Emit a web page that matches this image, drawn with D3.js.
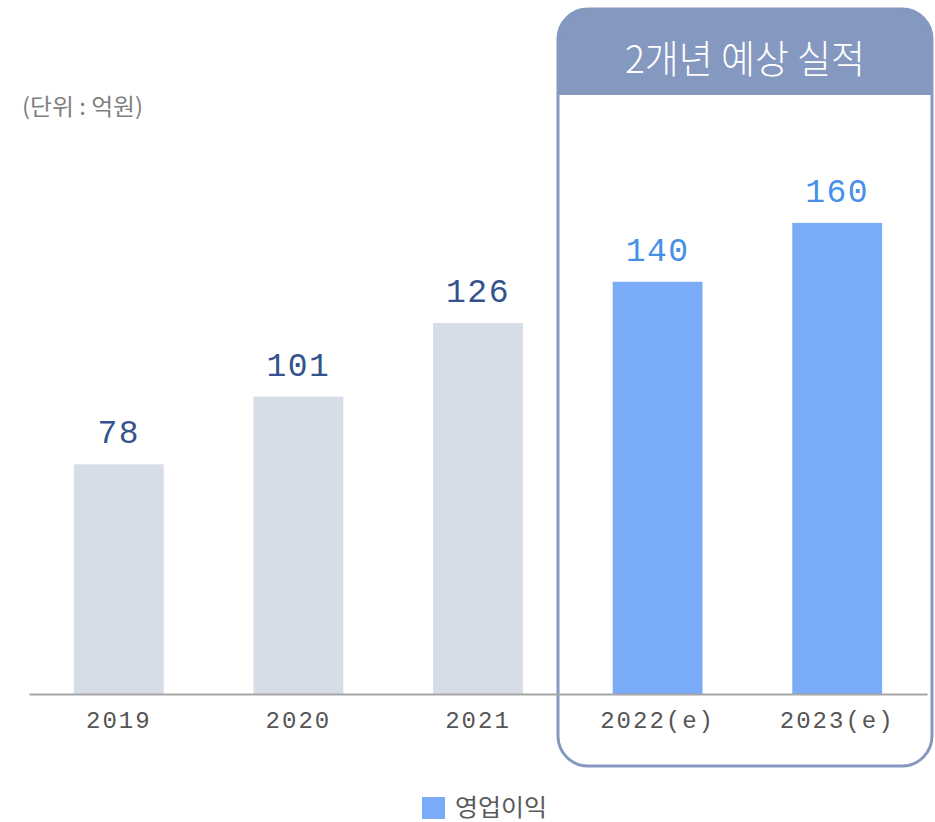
<!DOCTYPE html>
<html>
<head>
<meta charset="utf-8">
<script src="https://cdn.jsdelivr.net/npm/d3@7"></script>
<style>
  html, body { margin: 0; padding: 0; background: #fff; }
  svg { display: block; }
</style>
</head>
<body>
<svg id="chart" width="935" height="822"></svg>
<script>
const categories = ['2019', '2020', '2021', '2022(e)', '2023(e)'];
const values = [78, 101, 126, 140, 160];
const estimated = [false, false, false, true, true];
const unitLabel = '(단위 : 억원)';
const boxTitle = '2개년 예상 실적';
const legendLabel = '영업이익';

const colors = {
    actual: '#d6dde7',
    forecast: '#7aabf6',
    actualText: '#34528c',
    forecastText: '#4690ea',
    box: '#8598c0',
    axis: '#a6a6a6'
};

const svg = d3.select('#chart');
const data = categories.map((c, i) => ({ year: c, value: values[i], est: estimated[i] }));

const x = d3.scaleBand()
    .domain(categories)
    .range([29, 927])
    .paddingInner(0.5)
    .paddingOuter(0.25);

const y = d3.scaleLinear()
    .domain([0, 180])
    .range([694, 164]);

// forecast box
const box = { x: 558, y: 9, w: 374, h: 757, r: 30, head: 86 };

svg.append('defs').append('clipPath')
    .attr('id', 'box-clip')
    .append('rect')
    .attr('x', box.x).attr('y', box.y)
    .attr('width', box.w).attr('height', box.h)
    .attr('rx', box.r);

svg.append('rect')
    .attr('clip-path', 'url(#box-clip)')
    .attr('x', box.x).attr('y', box.y)
    .attr('width', box.w).attr('height', box.head)
    .attr('fill', colors.box);

svg.append('rect')
    .attr('x', box.x).attr('y', box.y)
    .attr('width', box.w).attr('height', box.h)
    .attr('rx', box.r)
    .attr('fill', 'none')
    .attr('stroke', colors.box)
    .attr('stroke-width', 3);

svg.append('text')
    .attr('x', box.x + box.w / 2)
    .attr('y', 73)
    .attr('text-anchor', 'middle')
    .attr('fill', '#fff')
    .attr('font-family', '"Noto Sans CJK KR", sans-serif')
    .attr('font-weight', 300)
    .attr('font-size', 39)
    .attr('textLength', 240)
    .attr('lengthAdjust', 'spacingAndGlyphs')
    .text(boxTitle);

// unit
svg.append('text')
    .attr('x', 22)
    .attr('y', 115)
    .attr('fill', '#7f7f7f')
    .attr('font-family', '"Noto Sans CJK KR", sans-serif')
    .attr('font-size', 23)
    .attr('textLength', 121)
    .attr('lengthAdjust', 'spacingAndGlyphs')
    .text(unitLabel);

// bars
svg.selectAll('rect.bar')
    .data(data)
    .enter()
    .append('rect')
    .attr('class', 'bar')
    .attr('x', d => x(d.year))
    .attr('y', d => y(d.value))
    .attr('width', x.bandwidth())
    .attr('height', d => y(0) - y(d.value))
    .attr('fill', d => d.est ? colors.forecast : colors.actual);

svg.selectAll('text.value')
    .data(data)
    .enter()
    .append('text')
    .attr('class', 'value')
    .attr('x', d => x(d.year) + x.bandwidth() / 2)
    .attr('y', d => y(d.value) - 21)
    .attr('text-anchor', 'middle')
    .attr('fill', d => d.est ? colors.forecastText : colors.actualText)
    .attr('font-family', '"Liberation Mono", monospace')
    .attr('font-size', 33)
    .attr('letter-spacing', 1.5)
    .text(d => d.value);

// x axis
const xAxis = svg.append('g')
    .attr('transform', `translate(0,${y(0)})`)
    .call(d3.axisBottom(x).tickSize(0).tickSizeOuter(0).tickPadding(17));

xAxis.select('.domain')
    .attr('stroke', colors.axis)
    .attr('stroke-width', 2);

xAxis.selectAll('text')
    .attr('fill', '#555')
    .attr('font-family', '"Liberation Mono", monospace')
    .attr('font-size', 24)
    .attr('letter-spacing', 2);

// legend
const legend = svg.append('g').attr('transform', 'translate(422,797)');
legend.append('rect')
    .attr('width', 23).attr('height', 22)
    .attr('fill', colors.forecast);
legend.append('text')
    .attr('x', 33)
    .attr('y', 19)
    .attr('fill', '#595959')
    .attr('font-family', '"Noto Sans CJK KR", sans-serif')
    .attr('font-size', 24)
    .attr('textLength', 92)
    .attr('lengthAdjust', 'spacingAndGlyphs')
    .text(legendLabel);
</script>
</body>
</html>
